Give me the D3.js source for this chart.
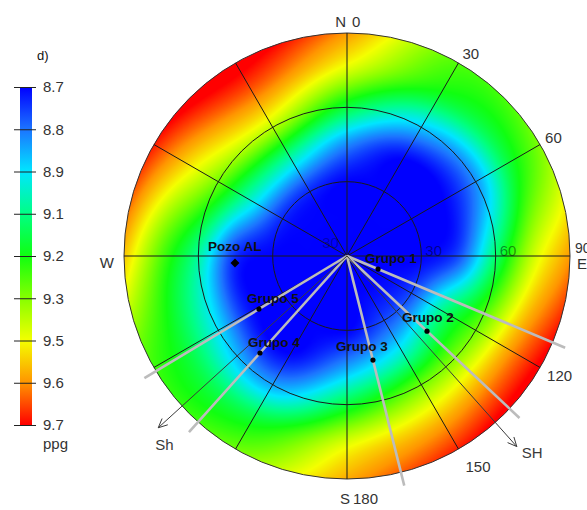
<!DOCTYPE html>
<html><head><meta charset="utf-8">
<script src="https://cdn.jsdelivr.net/npm/d3@7"></script>
<style>
body{margin:0;background:#fff}
svg{display:block;font-family:"Liberation Sans",Arial,sans-serif}
</style>
</head><body>
<svg id="chart" width="587" height="510"></svg>
<script>
// ---------- data ----------
const azimuths = [0, 30, 60, 90, 120, 150, 180, 210, 240, 270, 300, 330];
const inclinations = [0, 15, 30, 45, 60, 75, 90];
// mud weight (ppg), one row per azimuth, columns = inclinations
const mudWeight = [
  [8.70, 8.70, 8.70, 8.85, 9.15, 9.42, 9.57],
  [8.70, 8.70, 8.70, 8.70, 8.92, 9.18, 9.27],
  [8.70, 8.70, 8.70, 8.70, 8.86, 9.15, 9.32],
  [8.70, 8.70, 8.70, 8.78, 9.10, 9.40, 9.57],
  [8.70, 8.70, 8.78, 9.08, 9.30, 9.55, 9.72],
  [8.70, 8.70, 8.78, 9.00, 9.30, 9.52, 9.68],
  [8.70, 8.70, 8.70, 8.88, 9.15, 9.42, 9.55],
  [8.70, 8.70, 8.70, 8.70, 8.88, 9.15, 9.30],
  [8.70, 8.70, 8.70, 8.72, 8.95, 9.15, 9.25],
  [8.70, 8.70, 8.70, 8.75, 9.05, 9.27, 9.52],
  [8.70, 8.70, 8.74, 9.00, 9.30, 9.50, 9.68],
  [8.70, 8.70, 8.74, 9.02, 9.38, 9.60, 9.74]
];
const barTickLabels = ["8.7", "8.8", "8.9", "9.1", "9.2", "9.3", "9.5", "9.6", "9.7"];
const colorDomain = [8.7, 8.825, 8.95, 9.075, 9.2, 9.325, 9.45, 9.575, 9.7];
const colorRange = ["#0000ff", "#1c74ff", "#00e6ff", "#00ff84", "#10ff10", "#86ff00", "#f4ff00", "#ff9400", "#ff0000"];
const ringInclinations = [30, 60, 90];
const spokeAzimuths = [0, 30, 60, 90, 120, 150, 180, 210, 240, 270, 300, 330];
const spokeLabels = ["0", "30", "60", "90", "120", "150", "180"];
const groupNames = ["Grupo 1", "Grupo 2", "Grupo 3", "Grupo 4", "Grupo 5"];
const groupAzimuth = [112.8, 133.2, 166.0, 221.9, 238.9];
const groupInclination = [13.6, 44.3, 43.3, 52.6, 41.5];
const wellName = ["Pozo AL"];
const wellAzimuth = [266.4];
const wellInclination = [45.3];
const traceInclination = 95.5;
const stressNames = ["SH", "Sh"];
const stressAzimuth = [138.3, 227.7];
const stressInclination = 103;

// ---------- layout ----------
const cx = 347, cy = 256, R = 223;
const spokeLabelOffsets = [[0,0],[4,-4],[5,-2],[5,-3],[7,13],[7,23],[6,25]];
const groupLabelOffsets = [[-13,-6],[-25,-9],[-37,-9],[-12,-6],[-12,-6]];
const wellLabelOffset = [-27,-12];

const svg = d3.select("#chart");
const rScale = d3.scaleLinear().domain([0, 90]).range([0, R]);
const angle = d3.scaleLinear().domain([0, 360]).range([0, 2 * Math.PI]);
function pt(az, inc) {
  const a = angle(az), r = rScale(inc);
  return [cx + r * Math.sin(a), cy - r * Math.cos(a)];
}
const color = d3.scaleLinear().domain(colorDomain).range(colorRange)
  .interpolate(d3.interpolateRgb).clamp(true);

// ---------- field ----------
function cr(p0, p1, p2, p3, t) {
  return 0.5 * (2 * p1 + (-p0 + p2) * t + (2 * p0 - 5 * p1 + 4 * p2 - p3) * t * t + (-p0 + 3 * p1 - 3 * p2 + p3) * t * t * t);
}
const nA = azimuths.length, nI = inclinations.length;
const azStep = azimuths[1] - azimuths[0], incStep = inclinations[1] - inclinations[0];
function fieldAt(az, inc) {
  const a = az / azStep, ia = Math.floor(a), t = a - ia;
  const idx = k => ((ia + k) % nA + nA) % nA;
  const col = inclinations.map((_, j) =>
    cr(mudWeight[idx(-1)][j], mudWeight[idx(0)][j], mudWeight[idx(1)][j], mudWeight[idx(2)][j], t));
  const b = Math.min(inc / incStep, nI - 1);
  let j1 = Math.min(Math.floor(b), nI - 2);
  const s = b - j1;
  const p0 = j1 - 1 < 0 ? col[0] : col[j1 - 1];
  const p3 = j1 + 2 > nI - 1 ? 2 * col[nI - 1] - col[nI - 2] : col[j1 + 2];
  return cr(p0, col[j1], col[j1 + 1], p3, s);
}
// colour lookup table
const LUT = d3.range(1001).map(k => d3.rgb(color(8.6 + k * 1.2 / 1000)));
const size = 2 * R + 4;
const canvas = document.createElement("canvas");
canvas.width = size; canvas.height = size;
const ctx = canvas.getContext("2d");
const img = ctx.createImageData(size, size);
const x0 = cx - R - 2, y0 = cy - R - 2;
for (let py = 0; py < size; py++) {
  for (let px = 0; px < size; px++) {
    const dx = x0 + px + 0.5 - cx, dy = y0 + py + 0.5 - cy;
    const r = Math.hypot(dx, dy);
    if (r > R + 2) continue;
    let az = Math.atan2(dx, -dy) * 180 / Math.PI; if (az < 0) az += 360;
    const inc = rScale.invert(Math.min(r, R));
    const v = fieldAt(az, inc);
    let k = Math.round((v - 8.6) / 1.2 * 1000); k = Math.max(0, Math.min(1000, k));
    const c = LUT[k], o = (py * size + px) * 4;
    img.data[o] = c.r; img.data[o + 1] = c.g; img.data[o + 2] = c.b; img.data[o + 3] = 255;
  }
}
ctx.putImageData(img, 0, 0);
const defs = svg.append("defs");
defs.append("clipPath").attr("id", "clipC").append("circle").attr("cx", cx).attr("cy", cy).attr("r", R);
svg.append("image").attr("x", x0).attr("y", y0).attr("width", size).attr("height", size)
  .attr("href", canvas.toDataURL()).attr("clip-path", "url(#clipC)");

// ---------- grid ----------
const grid = svg.append("g").attr("fill", "none").attr("stroke", "#1a1a1a").attr("stroke-width", 1);
grid.selectAll("circle").data(ringInclinations).join("circle")
  .attr("cx", cx).attr("cy", cy).attr("r", d => rScale(d))
  .attr("stroke", d => d === 90 ? "#333" : "#1a1a1a");
grid.selectAll("line").data(spokeAzimuths).join("line")
  .attr("x1", cx).attr("y1", cy)
  .attr("x2", d => pt(d, 90)[0]).attr("y2", d => pt(d, 90)[1]);

// ---------- group traces ----------
svg.append("g").selectAll("line").data(groupAzimuth).join("line")
  .attr("x1", cx).attr("y1", cy)
  .attr("x2", d => pt(d, traceInclination)[0]).attr("y2", d => pt(d, traceInclination)[1])
  .attr("stroke", "#bcbcbc").attr("stroke-width", 2.6);

// ---------- stress arrows ----------
const arrows = svg.append("g").attr("stroke", "#3a3a3a").attr("stroke-width", 1).attr("fill", "none");
stressAzimuth.forEach((az, i) => {
  const tip = pt(az, stressInclination);
  arrows.append("line").attr("x1", cx).attr("y1", cy).attr("x2", tip[0]).attr("y2", tip[1]);
  const a = angle(az);
  const bx = -Math.sin(a), by = Math.cos(a);
  const path = d3.path();
  [25, -25].forEach(deg => {
    const t = deg * Math.PI / 180;
    const ux = bx * Math.cos(t) - by * Math.sin(t), uy = bx * Math.sin(t) + by * Math.cos(t);
    path.moveTo(tip[0], tip[1]); path.lineTo(tip[0] + 10 * ux, tip[1] + 10 * uy);
  });
  arrows.append("path").attr("d", path.toString());
});
svg.append("g").selectAll("text").data(stressNames).join("text")
  .attr("x", (d, i) => pt(stressAzimuth[i], stressInclination)[0] + (i === 0 ? 5 : -3))
  .attr("y", (d, i) => pt(stressAzimuth[i], stressInclination)[1] + (i === 0 ? 11 : 22))
  .attr("font-size", 15).attr("fill", "#3a3a3a").text(d => d);

// ---------- points ----------
svg.append("g").selectAll("circle").data(groupAzimuth).join("circle")
  .attr("cx", (d, i) => pt(d, groupInclination[i])[0])
  .attr("cy", (d, i) => pt(d, groupInclination[i])[1])
  .attr("r", 2.6).attr("fill", "#000");
svg.append("g").selectAll("path").data(wellAzimuth).join("path")
  .attr("transform", (d, i) => { const p = pt(d, wellInclination[i]); return `translate(${p[0]},${p[1]}) rotate(45)`; })
  .attr("d", d3.symbol().type(d3.symbolSquare).size(40)).attr("fill", "#000");
const labels = svg.append("g").attr("font-size", 13.5).attr("font-weight", "bold").attr("fill", "#111");
labels.selectAll("text.g").data(groupNames).join("text").attr("class", "g")
  .attr("x", (d, i) => pt(groupAzimuth[i], groupInclination[i])[0] + groupLabelOffsets[i][0])
  .attr("y", (d, i) => pt(groupAzimuth[i], groupInclination[i])[1] + groupLabelOffsets[i][1])
  .text(d => d);
labels.selectAll("text.w").data(wellName).join("text").attr("class", "w")
  .attr("x", (d, i) => pt(wellAzimuth[i], wellInclination[i])[0] + wellLabelOffset[0])
  .attr("y", (d, i) => pt(wellAzimuth[i], wellInclination[i])[1] + wellLabelOffset[1])
  .text(d => d);

// ---------- spoke & ring labels ----------
const tl = svg.append("g").attr("font-size", 15).attr("fill", "#333");
spokeLabels.forEach((lab, i) => {
  const az = +lab, p = pt(az, 90), off = spokeLabelOffsets[i];
  if (az === 0) {
    tl.append("text").attr("x", p[0] + 5).attr("y", p[1] - 6).text(lab);
    tl.append("text").attr("x", p[0] - 1).attr("y", p[1] - 6).attr("text-anchor", "end").text("N");
  } else if (az === 90) {
    tl.append("text").attr("x", p[0] + off[0]).attr("y", p[1] + off[1]).attr("font-size", 14).text(lab);
    tl.append("text").attr("x", p[0] + 7).attr("y", p[1] + 13).text("E");
  } else if (az === 180) {
    tl.append("text").attr("x", p[0] + off[0]).attr("y", p[1] + off[1]).text(lab);
    tl.append("text").attr("x", p[0] + 3).attr("y", p[1] + off[1]).attr("text-anchor", "end").text("S");
  } else {
    tl.append("text").attr("x", p[0] + off[0]).attr("y", p[1] + off[1]).text(lab);
  }
});
const pw = pt(270, 90);
tl.append("text").attr("x", pw[0] - 10).attr("y", pw[1] + 12).attr("text-anchor", "end").text("W");
// inclination labels along E axis
svg.append("g").attr("font-size", 15).attr("fill", "#000").attr("fill-opacity", 0.45)
  .selectAll("text").data(ringInclinations.slice(0, 2)).join("text")
  .attr("x", d => pt(90, d)[0] + 4).attr("y", cy).text(d => d);
svg.append("text").attr("x", pt(270, 10)[0]).attr("y", cy - 8).attr("font-size", 15)
  .attr("fill", "#000").attr("fill-opacity", 0.3).text(ringInclinations[0]);

// ---------- colour bar ----------
const barTop = 87, barBottom = 425;
const grad = defs.append("linearGradient").attr("id", "barGrad")
  .attr("x1", 0).attr("y1", 0).attr("x2", 0).attr("y2", 1);
grad.selectAll("stop").data(colorDomain).join("stop")
  .attr("offset", d => (d - colorDomain[0]) / (colorDomain[colorDomain.length - 1] - colorDomain[0]))
  .attr("stop-color", d => color(d));
svg.append("rect").attr("x", 20).attr("y", barTop).attr("width", 12).attr("height", barBottom - barTop)
  .attr("fill", "url(#barGrad)");
const barScale = d3.scalePoint().domain(barTickLabels).range([barTop, barBottom]);
const ax = svg.append("g").attr("transform", "translate(14,0)")
  .call(d3.axisRight(barScale).tickSize(22).tickPadding(7));
ax.select(".domain").remove();
ax.selectAll(".tick line").attr("stroke", "#222");
ax.selectAll(".tick text").attr("font-size", 15).attr("fill", "#333")
  .attr("font-family", "Liberation Sans, Arial, sans-serif");
svg.append("text").attr("x", 43).attr("y", 449).attr("font-size", 15).attr("fill", "#333").text("ppg");
svg.append("text").attr("x", 37).attr("y", 60).attr("font-size", 13).attr("fill", "#111").text("d)");
</script>
</body></html>
